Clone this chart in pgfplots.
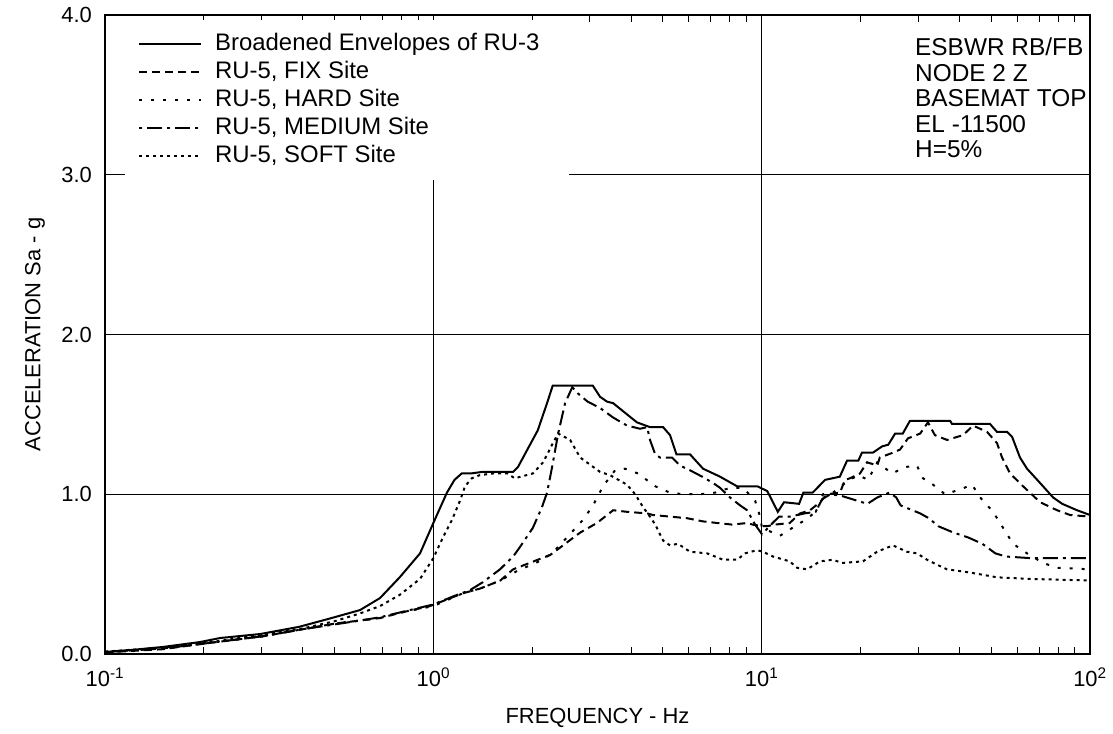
\documentclass[border=0pt]{standalone}
\usepackage{fontspec}
\setmainfont{Liberation Sans}
\usepackage{pgfplots}
\pgfplotsset{compat=1.18}
\begin{document}
\begin{tikzpicture}
\begin{axis}[
  at={(0,0)}, anchor=south west,
  scale only axis, width=985bp, height=639bp,
  xmode=log, xmin=0.1, xmax=100, ymin=0, ymax=4,
  xtick={0.1,1,10,100},
  xticklabels={10\textsuperscript{-1},10\textsuperscript{0},10\textsuperscript{1},10\textsuperscript{2}},
  minor xtick={0.2,0.3,0.4,0.5,0.6,0.7,0.8,0.9,2,3,4,5,6,7,8,9,20,30,40,50,60,70,80,90},
  ytick={0,1,2,3,4},
  yticklabels={0.0,1.0,2.0,3.0,4.0},
  grid=major,
  major grid style={black, line width=1bp},
  axis line style={black, line width=1.5bp},
  tick style={black, line width=1bp},
  major tick length=0bp,
  minor tick length=7bp,
  tick align=inside,
  xtick pos=both, ytick pos=left,
  ticklabel style={font=\fontsize{22}{24}\selectfont},
  xticklabel style={anchor=north, inner sep=0pt, yshift=-14bp},
  yticklabel style={anchor=east, inner sep=0pt, xshift=-13bp},
  xlabel={FREQUENCY - Hz},
  ylabel={ACCELERATION Sa - g},
  every axis x label/.style={at={(axis description cs:0.5,-0.100)}, anchor=center, font=\fontsize{22}{24}\selectfont},
  every axis y label/.style={at={(axis description cs:-0.0711,0.5)}, anchor=center, rotate=90, font=\fontsize{22}{24}\selectfont},
  legend cell align=left,
  legend image code/.code={\draw[#1] (0bp,0bp) -- (62bp,0bp);},
  legend style={at={(rel axis cs:0.0203,0.9922)}, anchor=north west, draw=none, fill=white,
    font=\fontsize{24}{28}\selectfont, inner xsep=13bp, inner ysep=12bp,
    row sep=4bp, column sep=13bp,
    nodes={inner sep=0pt, text height=18bp, text depth=6bp}},
]
% Broadened Envelopes of RU-3
\addplot[black, line width=2bp, sharp plot] table {
0.1 0.013
0.12 0.025
0.15 0.044
0.195 0.075
0.224 0.10
0.297 0.125
0.39 0.17
0.48 0.22
0.598 0.275
0.688 0.35
0.79 0.48
0.911 0.63
1.0 0.82
1.10 1.01
1.16 1.09
1.22 1.13
1.30 1.13
1.41 1.14
1.75 1.14
1.81 1.17
2.08 1.40
2.22 1.57
2.31 1.68
3.06 1.68
3.22 1.61
3.38 1.58
3.53 1.57
3.89 1.50
4.17 1.45
4.57 1.42
5.01 1.42
5.26 1.37
5.50 1.25
6.05 1.25
6.63 1.16
7.47 1.11
8.41 1.05
9.7 1.05
10.4 1.02
11.2 0.89
11.7 0.95
13.0 0.94
13.4 1.01
14.3 1.01
15.6 1.09
17.3 1.11
18.2 1.21
19.7 1.21
20.2 1.26
21.8 1.26
23.3 1.30
24.3 1.31
25.5 1.38
26.9 1.38
28.3 1.46
37.5 1.46
38.0 1.44
49.6 1.44
52.1 1.39
55.9 1.39
57.9 1.36
61.2 1.23
64.3 1.16
70.5 1.07
77.2 0.98
82.3 0.94
91.3 0.90
100 0.87
};
\addlegendentry{Broadened Envelopes of RU-3\rule{16bp}{0bp}}
% FIX
\addplot[black, line width=2bp, dash pattern=on 8bp off 5bp] table {
0.1 0.01
0.15 0.03
0.2 0.065
0.3 0.11
0.4 0.155
0.5 0.19
0.6 0.21
0.688 0.225
0.8 0.26
0.977 0.30
1.23 0.38
1.39 0.41
1.6 0.46
1.75 0.53
2.27 0.62
2.80 0.76
3.15 0.82
3.53 0.90
3.89 0.89
4.48 0.88
4.67 0.87
5.26 0.86
5.93 0.85
6.63 0.83
7.32 0.82
8.13 0.81
9.03 0.82
9.39 0.81
10.02 0.80
10.4 0.80
10.98 0.81
12.17 0.82
13.09 0.88
14.04 0.90
15.06 0.95
15.81 1.0
17.32 1.01
17.94 1.09
18.58 1.10
19.93 1.13
20.94 1.20
22.5 1.18
22.9 1.23
25.1 1.26
26.4 1.28
27.9 1.35
30.4 1.38
32.1 1.45
33.7 1.37
36.7 1.34
41.06 1.37
44.04 1.43
48.6 1.39
52.1 1.32
53.97 1.23
57.09 1.13
62.55 1.05
70.5 0.95
79.4 0.90
87.0 0.87
100 0.86
};
\addlegendentry{RU-5, FIX Site}
% HARD
\addplot[black, line width=2bp, dash pattern=on 3bp off 9bp] table {
0.1 0.012
0.15 0.035
0.2 0.065
0.3 0.11
0.4 0.155
0.5 0.19
0.6 0.21
0.688 0.225
0.8 0.26
1.0 0.30
1.23 0.38
1.39 0.41
1.6 0.46
1.8 0.52
2.1 0.58
2.3 0.63
2.554 0.73
2.857 0.84
3.065 0.93
3.288 1.05
3.577 1.15
3.837 1.16
4.20 1.13
4.74 1.05
5.26 1.01
5.76 1.00
6.49 1.00
7.21 1.01
8.01 1.04
8.78 1.04
9.55 0.96
9.89 0.86
10.02 0.79
11.37 0.74
12.63 0.80
13.84 0.85
14.74 0.90
15.38 1.00
16.5 1.01
18.2 1.08
19.7 1.12
21.08 1.09
22.5 1.20
24.95 1.13
27.33 1.17
29.7 1.18
31.0 1.10
33.26 1.06
36.19 1.00
40.2 1.03
43.73 1.06
46.3 0.98
50.67 0.89
53.97 0.80
58.3 0.69
64.3 0.63
71.97 0.57
79.4 0.54
100 0.53
};
\addlegendentry{RU-5, HARD Site}
% MEDIUM
\addplot[black, line width=2bp, dash pattern=on 3bp off 5bp on 15bp off 5bp] table {
0.1 0.012
0.15 0.035
0.2 0.065
0.3 0.11
0.4 0.155
0.5 0.185
0.6 0.21
0.688 0.23
0.868 0.28
1.0 0.31
1.147 0.36
1.293 0.40
1.417 0.45
1.596 0.53
1.75 0.61
1.837 0.67
2.01 0.79
2.143 0.92
2.22 1.01
2.30 1.17
2.40 1.38
2.519 1.57
2.65 1.67
2.76 1.63
2.95 1.58
3.22 1.54
3.53 1.48
3.89 1.43
4.26 1.41
4.48 1.42
4.57 1.34
4.74 1.25
4.90 1.23
5.33 1.23
5.64 1.18
6.05 1.15
6.59 1.11
7.12 1.07
7.47 1.04
8.01 0.98
8.60 0.93
9.03 0.90
9.55 0.81
10.02 0.75
10.8 0.82
11.3 0.86
12.2 0.86
13.5 0.88
14.6 0.89
15.3 0.97
16.2 1.0
17.5 0.99
19.5 0.96
21.0 0.94
22.5 0.98
24.5 1.01
25.7 0.98
26.5 0.93
30.4 0.88
32.3 0.85
34.5 0.80
38.4 0.76
42.5 0.73
47.0 0.69
51.5 0.63
55.5 0.61
66 0.60
100 0.60
};
\addlegendentry{RU-5, MEDIUM Site}
% SOFT
\addplot[black, line width=2bp, dash pattern=on 3bp off 4bp] table {
0.1 0.015
0.15 0.04
0.2 0.068
0.3 0.12
0.4 0.16
0.5 0.205
0.6 0.255
0.688 0.30
0.79 0.37
0.911 0.47
1.0 0.60
1.07 0.73
1.14 0.84
1.206 0.96
1.249 1.05
1.31 1.10
1.387 1.12
1.52 1.13
1.68 1.13
1.77 1.10
2.01 1.13
2.16 1.20
2.30 1.31
2.40 1.38
2.61 1.34
2.80 1.23
3.22 1.14
3.45 1.12
3.89 1.06
4.12 1.00
4.35 0.92
4.57 0.86
4.74 0.81
5.01 0.71
5.26 0.68
5.56 0.69
6.05 0.64
6.82 0.63
7.63 0.59
8.42 0.59
8.90 0.63
9.69 0.65
10.09 0.64
10.83 0.61
12.17 0.58
12.81 0.54
13.74 0.53
15.06 0.58
16.49 0.59
17.57 0.57
20.36 0.58
22.46 0.64
25.1 0.68
27.7 0.64
29.73 0.63
31.9 0.59
34.94 0.55
36.7 0.53
43.1 0.51
52.1 0.48
65.7 0.47
100 0.46
};
\addlegendentry{RU-5, SOFT Site}
\node[anchor=north west, align=left, inner sep=0pt, font=\fontsize{24.5}{25.5}\selectfont]
  at (rel axis cs:0.8223,0.9640) {ESBWR RB/FB\\NODE 2 Z\\BASEMAT TOP\\EL -11500\\H=5\%};
\end{axis}
\pgfresetboundingbox
\useasboundingbox (-105bp,-80bp) rectangle (1008bp,654bp);
\end{tikzpicture}
\end{document}
